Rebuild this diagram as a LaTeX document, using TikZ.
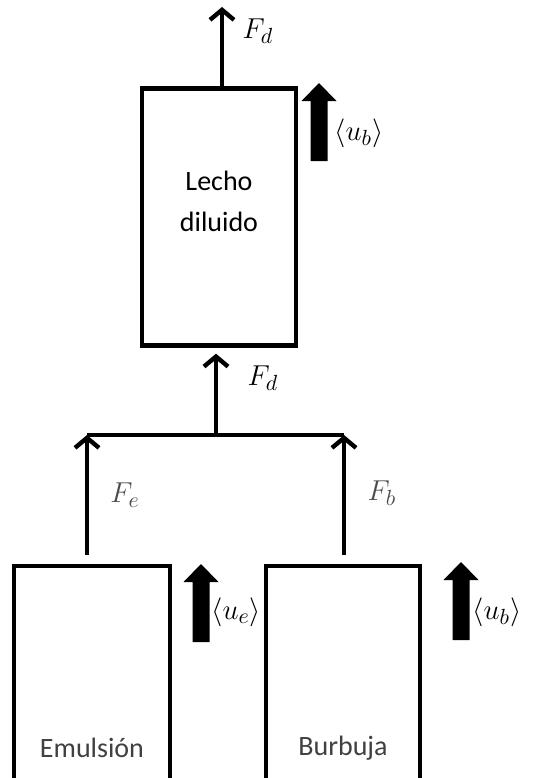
\documentclass[tikz,border=0pt]{standalone}
\usepackage{fontspec}
\setmainfont{Carlito}
\usetikzlibrary{arrows.meta,positioning}

\begin{document}
\begin{tikzpicture}[
        x=0.5pt, y=-0.5pt,
        unitbox/.style={
            draw,
            line width=2.2pt,
            inner sep=0pt,
            minimum width=77pt,
            minimum height=128.5pt
        },
        flow/.style={-{Straight Barb[length=5pt,width=12pt]}, line width=2.2pt},
        lbl/.style={font=\fontsize{14}{20.5}\selectfont, align=center},
        mathlbl/.style={font=\fontsize{15}{17}\selectfont, inner sep=0pt},
        velarrow/.pic={
            \fill (-8.5,0) -- (-8.5,-60) -- (-17.5,-60) -- (0,-78)
                -- (17.5,-60) -- (8.5,-60) -- (8.5,0) -- cycle;
        }
    ]
        \useasboundingbox (0,0) rectangle (536,778);
        \clip (0,0) rectangle (536,778);

        % dilute bed
        \node[unitbox] (dil) at (219,217) {};
        \node[lbl] (diltext) at (219,201) {Lecho\\diluido};
        \coordinate (out) at (222,7);
        \draw[flow] (out |- dil.north) -- (out);
        \node[mathlbl] (fdout) at (258,31) {$F_d$};
        \pic at (319,161) {velarrow};
        \node[mathlbl, anchor=west] (ubtop) at (334,133) {$\langle u_b\rangle$};

        % junction
        \coordinate (jm) at (216,435);
        \coordinate (jl) at (87,435);
        \coordinate (jr) at (344,435);
        \draw[line width=2.2pt] (jl) -- (jr);
        \draw[flow, shorten >=3pt] (jm) -- (jm |- dil.south);
        \node[mathlbl] (fdin) at (263,378) {$F_d$};

        % emulsion and bubble phases
        \node[unitbox, minimum width=78pt, minimum height=127pt] (emul) at (92,693) {};
        \node[unitbox, minimum height=127pt] (burb) at (343,693) {};
        \node[lbl, text=black!75] (emultext) at (92,748) {Emulsión};
        \node[lbl, text=black!75] (burbtext) at (343,748) {Burbuja};

        \draw[flow, shorten <=4.5pt] (jl |- emul.north) -- (jl);
        \draw[flow, shorten <=4.5pt] (jr |- burb.north) -- (jr);
        \node[mathlbl, text=black!70] (fe) at (125,495) {$F_e$};
        \node[mathlbl, text=black!70] (fb) at (382,493) {$F_b$};

        \pic at (201,642) {velarrow};
        \node[mathlbl, anchor=west] (ue) at (211,612) {$\langle u_e\rangle$};
        \pic at (461,640) {velarrow};
        \node[mathlbl, anchor=west] (ublow) at (472,612) {$\langle u_b\rangle$};
    \end{tikzpicture}
\end{document}
